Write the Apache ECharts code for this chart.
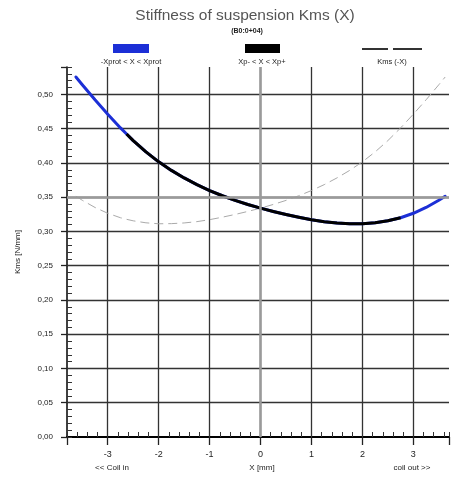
<!DOCTYPE html>
<html>
<head>
<meta charset="utf-8">
<script src="https://cdn.jsdelivr.net/npm/echarts@6/dist/echarts.min.js"></script>
<style>
  html, body { margin: 0; padding: 0; background: #fff; }
  #chart { width: 452px; height: 479px; }
</style>
</head>
<body>
<div id="chart"></div>
<script>
// Displacement positions X [mm]
const xPos = [-3.625, -3.5, -3.25, -3, -2.75, -2.63, -2.5, -2.25, -2, -1.75, -1.5, -1.25, -1, -0.75, -0.5, -0.25,
  0, 0.25, 0.5, 0.75, 1, 1.25, 1.5, 1.75, 2, 2.25, 2.5, 2.75, 3, 3.25, 3.5, 3.625];
// Stiffness Kms(X) [N/mm]
const kmsX = [0.5254, 0.5141, 0.4921, 0.4711, 0.4511, 0.4422, 0.4326, 0.4161, 0.4016, 0.3891, 0.3781, 0.3683, 0.3597, 0.3521, 0.3453, 0.3394,
  0.334, 0.3292, 0.3248, 0.3208, 0.3172, 0.3143, 0.3124, 0.3114, 0.3112, 0.3126, 0.3155, 0.3200, 0.3265, 0.335, 0.3455, 0.3514];
// Mirrored stiffness Kms(-X) [N/mm]
const kmsMinusX = [0.3514, 0.3455, 0.335, 0.3265, 0.3200, 0.3177, 0.3155, 0.3126, 0.3112, 0.3114, 0.3124, 0.3143, 0.3172, 0.3208, 0.3248, 0.3292,
  0.334, 0.3394, 0.3453, 0.3521, 0.3597, 0.3683, 0.3781, 0.3891, 0.4016, 0.4161, 0.4326, 0.4511, 0.4711, 0.4921, 0.5141, 0.5254];
// Working range limits Xp- / Xp+ [mm]
const xpMinus = -2.63;
const xpPlus = 2.75;
// Tick labels
const xTickLabels = ['-3', '-2', '-1', '0', '1', '2', '3'];
const yTickLabels = ['0,00', '0,05', '0,10', '0,15', '0,20', '0,25', '0,30', '0,35', '0,40', '0,45', '0,50'];
// Legend texts
const legendNames = ['-Xprot < X < Xprot', 'Xp- < X < Xp+', 'Kms (-X)'];

const FONT = '"Liberation Sans", Arial, sans-serif';

const fullCurve = xPos.map((x, i) => [x, kmsX[i]]);
const workCurve = fullCurve.filter(p => p[0] >= xpMinus - 1e-9 && p[0] <= xpPlus + 1e-9);
const mirrorCurve = xPos.map((x, i) => [x, kmsMinusX[i]]);

const chart = echarts.init(document.getElementById('chart'), null, { renderer: 'canvas' });

const gridLine = { color: '#333', width: 1.3 };

chart.setOption({
  animation: false,
  backgroundColor: '#fff',
  grid: { left: 67, top: 67, right: 0, bottom: 42 },
  xAxis: [
    {
      type: 'value', min: -3.8, max: 3.7, splitNumber: 7,
      axisLine: { show: true, onZero: false, lineStyle: { color: '#000', width: 2 } },
      axisTick: { show: true, inside: false, length: 8, lineStyle: { color: '#222', width: 1.3 } },
      axisLabel: {
        color: '#222', fontFamily: FONT, fontSize: 9, margin: 13,
        formatter: v => {
          const idx = xTickLabels.indexOf(String(Math.round(v)));
          return Math.abs(v - Math.round(v)) < 1e-6 && idx >= 0 ? xTickLabels[idx] : '';
        }
      },
      splitLine: { show: true, showMinLine: false, showMaxLine: false, lineStyle: gridLine }
    },
    {
      // minor ticks pointing into the plot
      type: 'value', position: 'bottom', min: -3.8, max: 3.7, interval: 0.2,
      axisLine: { show: false, onZero: false },
      axisTick: { show: true, inside: true, length: 5, lineStyle: { color: '#333', width: 1 } },
      axisLabel: { show: false },
      splitLine: { show: false }
    }
  ],
  yAxis: [
    {
      type: 'value', min: 0, max: 0.54, interval: 0.05, position: 'left',
      name: 'Kms [N/mm]', nameLocation: 'middle', nameGap: 45, nameRotate: 90,
      nameTextStyle: { color: '#222', fontFamily: FONT, fontSize: 8 },
      axisLine: { show: true, onZero: false, lineStyle: { color: '#000', width: 1.5 } },
      axisTick: { show: true, inside: false, length: 6, lineStyle: { color: '#222', width: 1.3 } },
      axisLabel: {
        color: '#222', fontFamily: FONT, fontSize: 8, margin: 14,
        formatter: v => {
          const k = Math.round(v / 0.05);
          return Math.abs(v - k * 0.05) < 1e-6 && yTickLabels[k] ? yTickLabels[k] : '';
        }
      },
      splitLine: { show: true, showMinLine: false, showMaxLine: false, lineStyle: gridLine }
    },
    {
      type: 'value', min: 0, max: 0.54, interval: 0.01, position: 'left',
      axisLine: { show: false, onZero: false },
      axisTick: { show: true, inside: true, length: 5, lineStyle: { color: '#333', width: 1 } },
      axisLabel: { show: false },
      splitLine: { show: false }
    }
  ],
  series: [
    {
      name: 'reference',
      type: 'line', data: [], silent: true,
      markLine: {
        silent: true, symbol: 'none', label: { show: false },
        lineStyle: { color: '#9a9a9a', width: 2.5, type: 'solid' },
        data: [{ yAxis: 0.35 }, { xAxis: 0 }]
      }
    },
    {
      name: legendNames[2], type: 'line', data: mirrorCurve, smooth: false,
      showSymbol: false, silent: true,
      lineStyle: { color: '#aaaaaa', width: 1, type: [9, 5] }
    },
    {
      name: legendNames[0], type: 'line', data: fullCurve, smooth: false,
      showSymbol: false, silent: true,
      lineStyle: { color: '#1c2fd6', width: 3, join: 'round', cap: 'round' }
    },
    {
      name: legendNames[1], type: 'line', data: workCurve, smooth: false,
      showSymbol: false, silent: true,
      lineStyle: { color: '#000', width: 3, join: 'round' }
    }
  ],
  graphic: [
    { type: 'text', x: 245, y: 16, style: { text: 'Stiffness of suspension Kms (X)', font: '15.5px ' + FONT, fill: '#555', align: 'center', verticalAlign: 'middle' } },
    { type: 'text', x: 247, y: 31, style: { text: '(B0:0+04)', font: 'bold 7px ' + FONT, fill: '#222', align: 'center', verticalAlign: 'middle' } },
    // legend swatches
    { type: 'rect', shape: { x: 113, y: 44, width: 36, height: 9 }, style: { fill: '#1c2fd6' } },
    { type: 'rect', shape: { x: 245, y: 44, width: 35, height: 9 }, style: { fill: '#000' } },
    { type: 'line', shape: { x1: 362, y1: 49, x2: 388, y2: 49 }, style: { stroke: '#333', lineWidth: 2 } },
    { type: 'line', shape: { x1: 393, y1: 49, x2: 422, y2: 49 }, style: { stroke: '#333', lineWidth: 2 } },
    { type: 'text', x: 131, y: 62, style: { text: legendNames[0], font: '7.5px ' + FONT, fill: '#222', align: 'center', verticalAlign: 'middle' } },
    { type: 'text', x: 262, y: 62, style: { text: legendNames[1], font: '7.5px ' + FONT, fill: '#222', align: 'center', verticalAlign: 'middle' } },
    { type: 'text', x: 392, y: 62, style: { text: legendNames[2], font: '7.5px ' + FONT, fill: '#222', align: 'center', verticalAlign: 'middle' } },
    // axis captions
    { type: 'text', x: 112, y: 468, style: { text: '<< Coil in', font: '8px ' + FONT, fill: '#222', align: 'center', verticalAlign: 'middle' } },
    { type: 'text', x: 262, y: 468, style: { text: 'X [mm]', font: '8px ' + FONT, fill: '#222', align: 'center', verticalAlign: 'middle' } },
    { type: 'text', x: 412, y: 468, style: { text: 'coil out >>', font: '8px ' + FONT, fill: '#222', align: 'center', verticalAlign: 'middle' } }
  ]
});
</script>
</body>
</html>
